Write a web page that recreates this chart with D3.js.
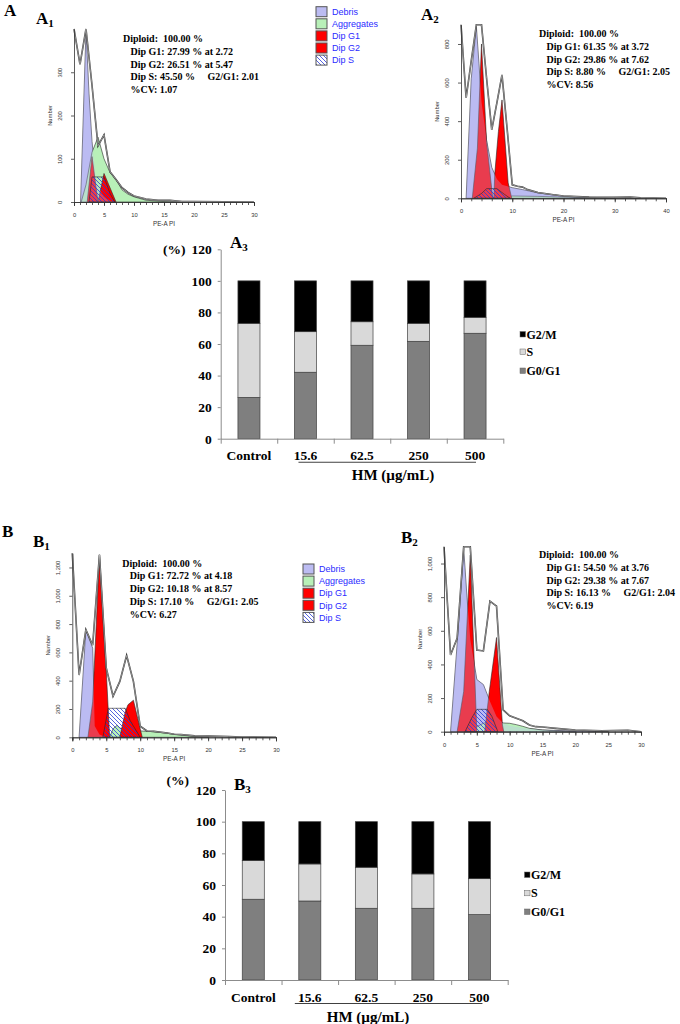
<!DOCTYPE html>
<html>
<head>
<meta charset="utf-8">
<script src="https://cdn.jsdelivr.net/npm/d3@7"></script>
<style>
  body { margin: 0; background: #fff; }
  svg { display: block; }
</style>
</head>
<body>
<svg id="fig" width="680" height="1024"></svg>
<script>
// ── Data: flow cytometry histograms (x = PE-A PI, y = count) ─────
const a1Envelope   = [[0,400],[1,318],[2,400],[3,270],[4,130],[5,155],[6,70],[7,52],[8,33],[9,22],[10,14],[12,7],[14,4],[16,4],[18,1],[20,1],[30,0]];
const a1Debris     = [[1.1,0],[2,398],[2.5,250],[3,140],[3.5,70],[4,35],[5,12],[6,3],[7,0]];
const a1Aggregates = [[1.2,0],[2,40],[3,115],[4,150],[5,100],[6,68],[7,52],[8,28],[9,18],[10,12],[12,4],[15,1],[18,0]];
const a1G1         = [[2.2,0],[3,105],[4,0]];
const a1G2         = [[4,0],[5,66],[7,0]];
const a1S          = [[2.5,0],[3,58],[5,58],[6,20],[6.8,0]];

const a2Envelope   = [[0,900],[1,520],[2,712],[3,900],[4,900],[5,620],[6,355],[7,495],[8,640],[9,360],[10,70],[11,62],[12,58],[13,45],[15,30],[18,18],[20,12],[25,6],[30,5],[33,6],[35,2],[40,0]];
const a2Debris     = [[1,0],[2,620],[3,890],[3.5,700],[4,500],[5,300],[6,160],[7,100],[8,70],[10,55],[12,45],[15,28],[20,12],[25,5],[30,2],[35,0]];
const a2Aggregates = [[8,0],[10,12],[15,10],[20,6],[25,3],[30,0]];
const a2G1         = [[2.2,0],[3.2,260],[4,800],[5,290],[6.2,0]];
const a2G2         = [[6.4,0],[6.6,130],[7.3,346],[8,510],[9.2,80],[9.9,0]];
const a2S          = [[2.5,0],[4,25],[5,50],[7,50],[8.5,20],[9.6,0]];

const b1Envelope   = [[0,1300],[1,440],[2,760],[3,650],[4,1290],[5,490],[6,290],[7,395],[8,578],[9,395],[10,78],[11,45],[12,42],[14,30],[15,22],[16,20],[18,10],[20,8],[23,5],[25,2],[30,0]];
const b1Debris     = [[1,0],[2,755],[3,630],[3.3,80],[4,20],[5,0]];
const b1Aggregates = [[5.5,0],[6,60],[6.6,85],[7,65],[8,55],[9,50],[10,45],[11,42],[12,40],[14,28],[16,15],[18,6],[20,0]];
const b1G1         = [[2.3,0],[3,250],[4,1290],[5,470],[5.5,0]];
const b1G2         = [[7,0],[7.8,180],[8.2,230],[9,262],[9.9,80],[10.3,0]];
const b1S          = [[4.5,0],[5.3,205],[7.8,205],[8.5,120],[10,0]];

const b2Envelope   = [[0,1100],[1,456],[2,555],[3,1100],[4,1100],[5,485],[6,480],[7,776],[8,747],[9,130],[10,95],[11,80],[12,65],[13,40],[14,30],[15,28],[17,20],[20,10],[24,6],[28,8],[30,0]];
const b2Debris     = [[1,0],[2,520],[3,1090],[3.5,800],[4,550],[5,310],[6,280],[7,180],[8,90],[9,50],[10,35],[12,22],[15,10],[20,4],[25,0]];
const b2Aggregates = [[4,0],[5,30],[6,50],[7,60],[8,55],[9,52],[10,50],[11,42],[12,32],[13,20],[15,10],[18,3],[20,0]];
const b2G1         = [[2,0],[3,240],[4,1050],[5,0]];
const b2G2         = [[6.2,0],[6.9,240],[8,560],[8.9,40],[9.1,0]];
const b2S          = [[3.2,0],[4.2,80],[5,133],[6.6,133],[7.3,90],[8.2,0]];

// ── Data: ModFit statistics text ─────────────────────────────────
const a1Stats = ['Diploid:  100.00 %', 'Dip G1: 27.99 % at 2.72', 'Dip G2: 26.51 % at 5.47', 'Dip S: 45.50 %     G2/G1: 2.01', '%CV: 1.07'];
const a2Stats = ['Diploid:  100.00 %', 'Dip G1: 61.35 % at 3.72', 'Dip G2: 29.86 % at 7.62', 'Dip S: 8.80 %     G2/G1: 2.05', '%CV: 8.56'];
const b1Stats = ['Diploid:  100.00 %', 'Dip G1: 72.72 % at 4.18', 'Dip G2: 10.18 % at 8.57', 'Dip S: 17.10 %     G2/G1: 2.05', '%CV: 6.27'];
const b2Stats = ['Diploid:  100.00 %', 'Dip G1: 54.50 % at 3.76', 'Dip G2: 29.38 % at 7.67', 'Dip S: 16.13 %     G2/G1: 2.04', '%CV: 6.19'];
const histLegend = ['Debris', 'Aggregates', 'Dip G1', 'Dip G2', 'Dip S'];

// ── Data: stacked cell-cycle bars (%) ────────────────────────────
const doses = ['Control', '15.6', '62.5', '250', '500'];
const phases = ['G2/M', 'S', 'G0/G1'];
const percentTicks = [0, 20, 40, 60, 80, 100, 120];
const a3G0G1 = [26.2, 42.1, 59.2, 61.7, 66.8];
const a3S    = [46.9, 25.7, 14.9, 11.4, 10.1];
const a3G2M  = [26.9, 32.2, 25.9, 26.9, 23.1];
const b3G0G1 = [51.0, 49.9, 45.3, 45.3, 41.3];
const b3S    = [24.4, 23.4, 25.9, 21.7, 22.7];
const b3G2M  = [24.6, 26.7, 28.8, 33.0, 36.0];

// ── Styles ───────────────────────────────────────────────────────
const SERIF = '"Liberation Serif","Times New Roman",serif';
const SANS = '"Liberation Sans",Arial,sans-serif';
const FILL = { debris: '#bcbcf2', aggregates: '#b8f0b8', red: '#ff0000' };
const PHASE_FILL = { 'G2/M': '#000000', 'S': '#d9d9d9', 'G0/G1': '#7f7f7f' };

const svg = d3.select('#fig');
const defs = svg.append('defs');
defs.append('pattern')
  .attr('id', 'hatch')
  .attr('patternUnits', 'userSpaceOnUse')
  .attr('width', 4).attr('height', 4)
  .append('path')
  .attr('d', 'M-1,-1L5,5M3,-1L5,1M-1,3L1,5')
  .attr('stroke', '#2b3bd6')
  .attr('stroke-width', 0.8);

function text(x, y, str, opts = {}) {
  return svg.append('text')
    .attr('x', x).attr('y', y)
    .attr('font-family', opts.family || SERIF)
    .attr('font-weight', opts.weight || 'bold')
    .attr('font-size', opts.size || 12)
    .attr('fill', opts.fill || '#000')
    .attr('text-anchor', opts.anchor || 'start')
    .style('white-space', 'pre')
    .text(str);
}

function panelLabel(x, y, letter, sub) {
  const t = text(x, y, letter, { size: 17 });
  if (sub) t.append('tspan').attr('font-size', 11).attr('dy', 3).text(sub);
}

// ── Histogram panel ──────────────────────────────────────────────
function drawHistogram(cfg) {
  const g = svg.append('g');
  const x = d3.scaleLinear().domain([0, cfg.xMax]).range(cfg.xRange);
  const y = d3.scaleLinear().domain([0, cfg.yMax]).range(cfg.yRange).clamp(true);
  const area = d3.area().x(d => x(d[0])).y0(y(0)).y1(d => y(d[1]));
  const line = d3.line().x(d => x(d[0])).y(d => y(d[1]));

  const addArea = (data, fill, op, stroke) => g.append('path').datum(data)
    .attr('d', area)
    .attr('fill', fill)
    .attr('fill-opacity', op)
    .attr('stroke', stroke ? '#262626' : 'none')
    .attr('stroke-width', 0.6);

  addArea(cfg.debris, FILL.debris, 1, true);
  addArea(cfg.aggregates, FILL.aggregates, 1, true);
  addArea(cfg.g1, FILL.red, 1, true);
  addArea(cfg.g2, FILL.red, 1, true);
  // debris veil: red looks crimson where it overlaps the debris fit
  addArea(cfg.debris, FILL.debris, 0.32, false);
  addArea(cfg.s, 'url(#hatch)', 1, true);

  // measured histogram outline (double line look)
  g.append('path').datum(cfg.envelope).attr('d', line)
    .attr('fill', 'none').attr('stroke', '#333').attr('stroke-width', 1.6);
  g.append('path').datum(cfg.envelope).attr('d', line)
    .attr('fill', 'none').attr('stroke', '#e6e6e6').attr('stroke-width', 0.5);

  // X axis: minor + major ticks
  const xMinor = g.append('g')
    .attr('transform', `translate(0,${cfg.yRange[0]})`)
    .call(d3.axisBottom(x).tickValues(d3.range(0, cfg.xMax + 0.001, cfg.xMinor)).tickSize(3).tickFormat(''));
  const xMajor = g.append('g')
    .attr('transform', `translate(0,${cfg.yRange[0]})`)
    .call(d3.axisBottom(x).tickValues(d3.range(0, cfg.xMax + 0.001, cfg.xMajor)).tickSize(4).tickPadding(7));
  xMajor.selectAll('text').attr('font-family', SANS).attr('font-size', 5.8).attr('fill', '#333');

  // Y axis with rotated labels
  const yAx = g.append('g')
    .attr('transform', `translate(${cfg.xRange[0]},0)`)
    .call(d3.axisLeft(y).tickValues(d3.range(0, cfg.yMax, cfg.yStep)).tickSize(3).tickSizeOuter(0));
  yAx.selectAll('text')
    .attr('font-family', SANS).attr('font-size', 5.8).attr('fill', '#333')
    .attr('x', 0).attr('dy', 0)
    .attr('text-anchor', 'middle')
    .attr('transform', 'translate(-12,0) rotate(-90)');

  [xMinor, xMajor, yAx].forEach(a => a.selectAll('.domain, .tick line').attr('stroke', '#333').attr('stroke-width', 0.8));

  const midY = (cfg.yRange[0] + cfg.yRange[1]) / 2;
  svg.append('text')
    .attr('transform', `translate(${cfg.xRange[0] - 22},${midY}) rotate(-90)`)
    .attr('text-anchor', 'middle')
    .attr('font-family', SANS).attr('font-size', 5.8).attr('fill', '#333')
    .text('Number');
  text((cfg.xRange[0] + cfg.xRange[1]) / 2, cfg.yRange[0] + 24, 'PE-A PI',
    { family: SANS, weight: 'normal', size: 6.3, anchor: 'middle', fill: '#333' });

  // statistics block
  cfg.stats.forEach((s, i) => {
    text(i === 0 ? cfg.statsX : cfg.statsX + 7.5, cfg.statsY + i * 12.8, s, { size: 10 });
  });
}

function drawHistLegend(x, y) {
  const fills = [FILL.debris, FILL.aggregates, FILL.red, FILL.red, 'url(#hatch)'];
  histLegend.forEach((name, i) => {
    const cy = y + i * 12.1;
    if (i === 4) {
      svg.append('rect').attr('x', x).attr('y', cy - 5).attr('width', 11).attr('height', 10).attr('fill', '#fff');
    }
    svg.append('rect')
      .attr('x', x).attr('y', cy - 5).attr('width', 11).attr('height', 10)
      .attr('fill', fills[i]).attr('stroke', '#555').attr('stroke-width', 1);
    text(x + 16, cy + 3.2, name, { family: SANS, weight: 'normal', size: 9, fill: '#2b2bff' });
  });
}

// ── Stacked bar panel ────────────────────────────────────────────
function drawStackedBars(cfg) {
  const g = svg.append('g');
  const x = d3.scaleBand().domain(doses).range(cfg.xRange).padding(0);
  const y = d3.scaleLinear().domain([0, 120]).range(cfg.yRange);
  const rows = doses.map((d, i) => ({ dose: d, 'G0/G1': cfg.g0g1[i], 'S': cfg.s[i], 'G2/M': cfg.g2m[i] }));
  const stacked = d3.stack().keys(['G0/G1', 'S', 'G2/M'])(rows);
  const barW = x.bandwidth() * 0.39;

  stacked.forEach(layer => {
    g.selectAll(null).data(layer).enter().append('rect')
      .attr('x', d => x(d.data.dose) + (x.bandwidth() - barW) / 2)
      .attr('y', d => y(d[1]))
      .attr('width', barW)
      .attr('height', d => y(d[0]) - y(d[1]))
      .attr('fill', PHASE_FILL[layer.key])
      .attr('stroke', '#404040')
      .attr('stroke-width', 0.7);
  });

  // Y axis
  const yAx = g.append('g')
    .attr('transform', `translate(${cfg.xRange[0]},0)`)
    .call(d3.axisLeft(y).tickValues(percentTicks).tickSize(3).tickPadding(6).tickSizeOuter(0));
  yAx.selectAll('text').attr('font-family', SERIF).attr('font-weight', 'bold').attr('font-size', 13.5).attr('fill', '#000');

  // X axis: boundary ticks + category labels
  const xb = d3.scaleLinear().domain([0, doses.length]).range(cfg.xRange);
  const xAx = g.append('g')
    .attr('transform', `translate(0,${cfg.yRange[0]})`)
    .call(d3.axisBottom(xb).ticks(doses.length).tickSize(5).tickFormat('').tickSizeOuter(0));
  g.append('g')
    .attr('transform', `translate(0,${cfg.yRange[0]})`)
    .call(d3.axisBottom(x).tickSize(0).tickPadding(12))
    .call(a => a.select('.domain').remove())
    .selectAll('text')
    .attr('font-family', SERIF).attr('font-weight', 'bold').attr('font-size', 13.5).attr('fill', '#000');

  [yAx, xAx].forEach(a => a.selectAll('.domain, .tick line').attr('stroke', '#8c8c8c').attr('stroke-width', 1));

  // dose bracket and axis title
  const x0 = x('15.6') + x.bandwidth() / 2 + cfg.lineOffsets[0];
  const x1 = x('500') + x.bandwidth() / 2 + cfg.lineOffsets[1];
  svg.append('line')
    .attr('x1', x0).attr('x2', x1)
    .attr('y1', cfg.yRange[0] + 23.5).attr('y2', cfg.yRange[0] + 23.5)
    .attr('stroke', '#404040').attr('stroke-width', 1.1);
  text(cfg.titleX, cfg.yRange[0] + 41.5, 'HM (µg/mL)', { size: 15, anchor: 'middle' });
  text(cfg.pctX, cfg.pctY, '(%)', { size: 13.5 });

  // legend
  phases.forEach((p, i) => {
    const cy = cfg.legendY[i];
    svg.append('rect')
      .attr('x', cfg.legendX).attr('y', cy - 3).attr('width', 5.5).attr('height', 5.5)
      .attr('fill', PHASE_FILL[p]).attr('stroke', '#666').attr('stroke-width', 0.5);
    text(cfg.legendX + 6.5, cy + 4, p, { size: 12 });
  });
}

// ── Panel A ──────────────────────────────────────────────────────
panelLabel(4, 16, 'A');
panelLabel(36, 24, 'A', '1');
drawHistogram({
  xRange: [74, 254], yRange: [202, 29], xMax: 30, yMax: 400, xMinor: 1, xMajor: 5, yStep: 100,
  envelope: a1Envelope, debris: a1Debris, aggregates: a1Aggregates, g1: a1G1, g2: a1G2, s: a1S,
  stats: a1Stats, statsX: 123, statsY: 42
});
drawHistLegend(316, 11.7);

panelLabel(421, 20, 'A', '2');
drawHistogram({
  xRange: [461, 666], yRange: [198.3, 24.7], xMax: 40, yMax: 900, xMinor: 2, xMajor: 10, yStep: 200,
  envelope: a2Envelope, debris: a2Debris, aggregates: a2Aggregates, g1: a2G1, g2: a2G2, s: a2S,
  stats: a2Stats, statsX: 539, statsY: 37
});

panelLabel(230, 248, 'A', '3');
drawStackedBars({
  xRange: [220.7, 503.3], yRange: [438.7, 249.3],
  g0g1: a3G0G1, s: a3S, g2m: a3G2M,
  lineOffsets: [-7, 1], titleX: 393, pctX: 163, pctY: 254,
  legendX: 520, legendY: [334.5, 352, 371]
});

// ── Panel B ──────────────────────────────────────────────────────
panelLabel(2, 537, 'B');
panelLabel(33, 547, 'B', '1');
drawHistogram({
  xRange: [72.3, 276], yRange: [737.3, 553.3], xMax: 30, yMax: 1300, xMinor: 1, xMajor: 5, yStep: 200,
  envelope: b1Envelope, debris: b1Debris, aggregates: b1Aggregates, g1: b1G1, g2: b1G2, s: b1S,
  stats: b1Stats, statsX: 122.3, statsY: 566.5
});
drawHistLegend(303, 569);

panelLabel(401, 543, 'B', '2');
drawHistogram({
  xRange: [444, 641], yRange: [731.7, 546.7], xMax: 30, yMax: 1100, xMinor: 1, xMajor: 5, yStep: 200,
  envelope: b2Envelope, debris: b2Debris, aggregates: b2Aggregates, g1: b2G1, g2: b2G2, s: b2S,
  stats: b2Stats, statsX: 539, statsY: 558
});

panelLabel(234, 790, 'B', '3');
drawStackedBars({
  xRange: [225, 507.7], yRange: [980, 790],
  g0g1: b3G0G1, s: b3S, g2m: b3G2M,
  lineOffsets: [-15, 3], titleX: 368, pctX: 166.5, pctY: 784.5,
  legendX: 524.5, legendY: [875, 893.3, 912]
});
</script>
</body>
</html>
